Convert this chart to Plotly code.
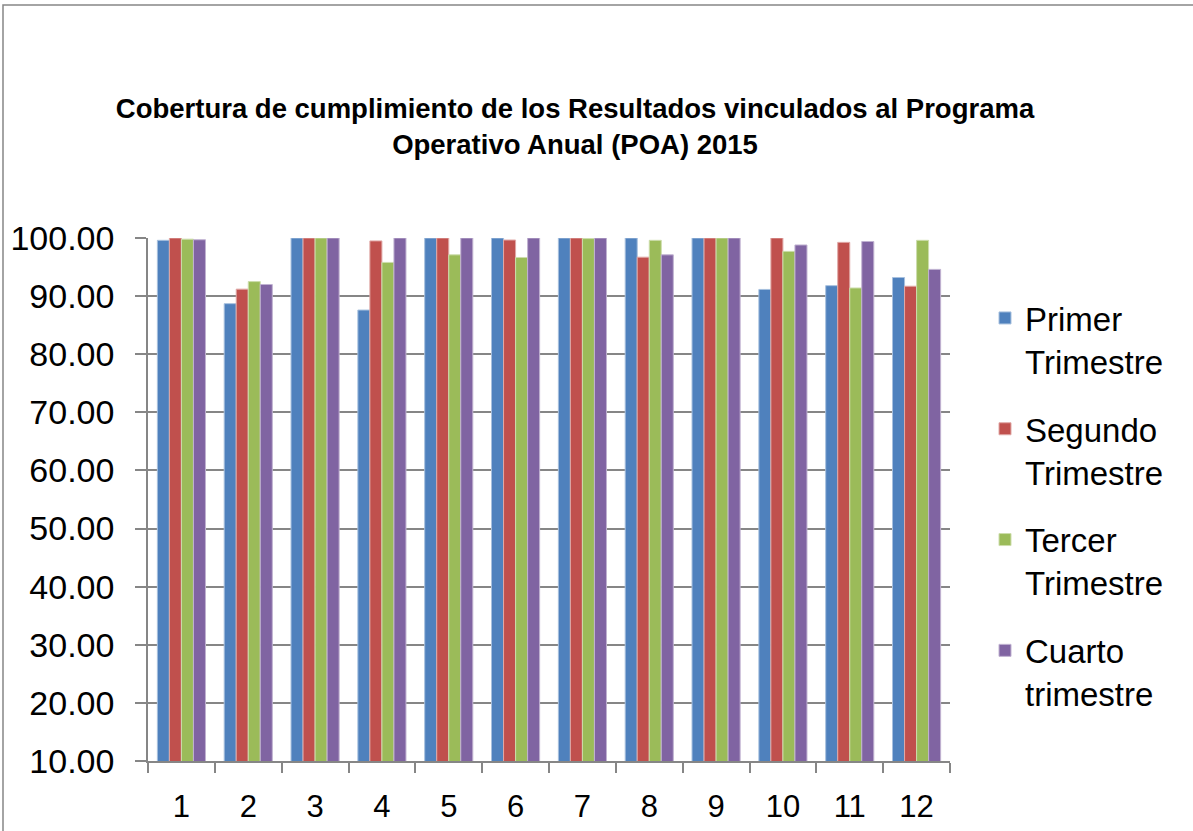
import plotly.graph_objects as go

categories = ["1", "2", "3", "4", "5", "6", "7", "8", "9", "10", "11", "12"]
primer = [99.6, 88.7, 100.0, 87.6, 100.0, 100.0, 100.0, 100.0, 100.0, 91.15, 91.8, 93.2]
segundo = [100.0, 91.2, 100.0, 99.5, 100.0, 99.65, 100.0, 96.7, 100.0, 100.0, 99.25, 91.7]
tercer = [99.8, 92.5, 100.0, 95.8, 97.1, 96.65, 99.9, 99.6, 100.0, 97.7, 91.4, 99.6]
cuarto = [99.7, 92.0, 100.0, 100.0, 100.0, 100.0, 100.0, 97.1, 100.0, 98.8, 99.4, 94.6]

series = [
    ("Primer<br>Trimestre", primer, "#4F81BD", "#A7C0DE"),
    ("Segundo<br>Trimestre", segundo, "#C0504D", "#E0A8A6"),
    ("Tercer<br>Trimestre", tercer, "#9BBB59", "#CDDDAC"),
    ("Cuarto<br>trimestre", cuarto, "#8064A2", "#C0B2D1"),
]

FONT = "Liberation Sans, Arial, sans-serif"

fig = go.Figure()
for i, (name, vals, col, edge) in enumerate(series):
    fig.add_trace(go.Bar(
        x=categories, y=vals, name=name,
        marker=dict(color=col, line=dict(color=edge, width=1)),
        legendgroup=str(i),
    ))

fig.update_layout(
    width=1193, height=831,
    margin=dict(l=148, r=243, t=238, b=70, autoexpand=False),
    paper_bgcolor="white", plot_bgcolor="white",
    barmode="group", bargap=0.28, bargroupgap=0,
    font=dict(family=FONT, color="black"),
    title=dict(
        text="<b>Cobertura de cumplimiento de los Resultados vinculados al Programa<br>Operativo Anual (POA) 2015</b>",
        x=575 / 1193, xanchor="center", y=1 - 118 / 831, yanchor="middle",
        font=dict(family=FONT, size=27.5, color="black"),
    ),
    legend=dict(
        xref="container", yref="container",
        x=985 / 1193, y=1 - 290 / 831, xanchor="left", yanchor="top",
        font=dict(family=FONT, size=33, color="black"),
        valign="top", tracegroupgap=22, itemwidth=30,
        bgcolor="rgba(0,0,0,0)", maxheight=800,
    ),
    showlegend=True,
)

fig.update_xaxes(
    type="category", showline=True, linecolor="#868686", linewidth=1.5,
    ticks="outside", tickson="boundaries", ticklen=10, tickcolor="#868686", tickwidth=1.5,
    tickfont=dict(family=FONT, size=31), showgrid=False, ticklabelstandoff=17,
    automargin=False,
)
fig.update_yaxes(
    range=[10, 100], dtick=10, tickformat=".2f",
    showline=True, linecolor="#868686", linewidth=1.5,
    ticks="outside", ticklen=11, tickcolor="#868686", tickwidth=1.5,
    showgrid=True, gridcolor="#868686", gridwidth=1.5,
    tickfont=dict(family=FONT, size=34), zeroline=False, ticklabelstandoff=14,
    automargin=False,
)

# outer chart frame
fig.add_shape(type="rect", xref="paper", yref="paper",
              x0=(3 - 148) / 802, x1=2.0, y0=-1.0, y1=(761 - 5) / 523,
              line=dict(color="#868686", width=1.5), fillcolor="rgba(0,0,0,0)", layer="below")

fig.write_html("out.html", config={"displayModeBar": False},
               post_script="document.body.style.margin='0';")
